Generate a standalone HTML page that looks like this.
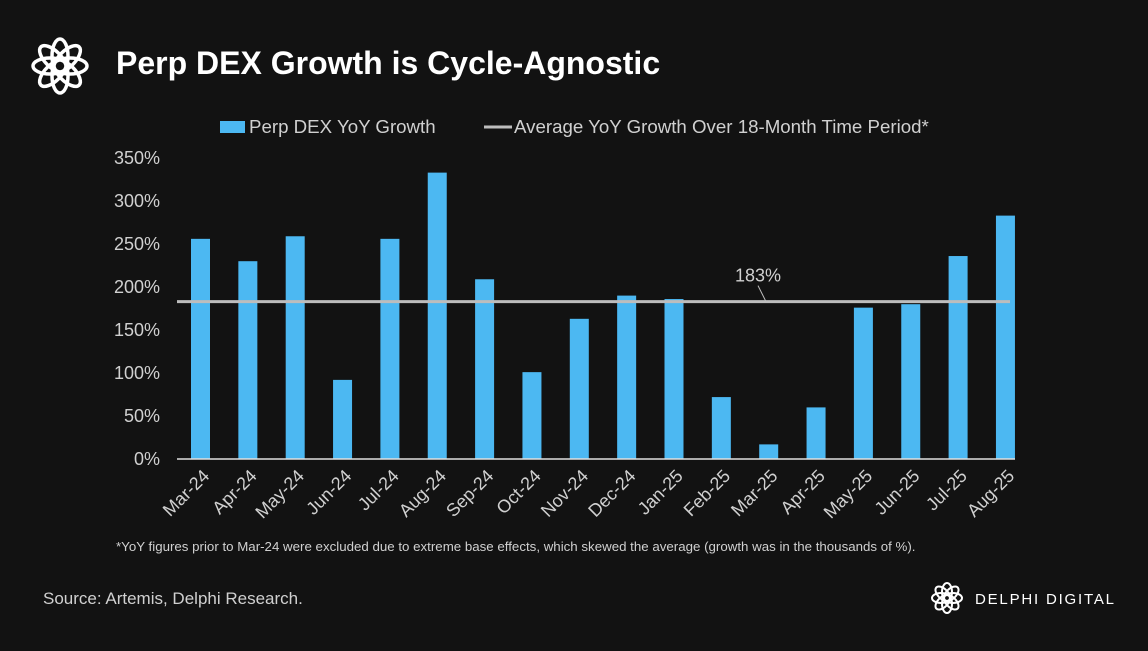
<!DOCTYPE html>
<html><head><meta charset="utf-8"><style>
body{margin:0;width:1148px;height:646px;background:#121212;overflow:hidden;font-family:"Liberation Sans",sans-serif;color:#fff}
</style></head><body>
<svg width="1148" height="646">
<g fill="none" stroke="#fff" stroke-width="3.5">
  <g transform="translate(60,66)">
    <ellipse rx="8" ry="17" transform="rotate(0) translate(0,-10)"/>
    <ellipse rx="8" ry="17" transform="rotate(45) translate(0,-10)"/>
    <ellipse rx="8" ry="17" transform="rotate(90) translate(0,-10)"/>
    <ellipse rx="8" ry="17" transform="rotate(135) translate(0,-10)"/>
    <ellipse rx="8" ry="17" transform="rotate(180) translate(0,-10)"/>
    <ellipse rx="8" ry="17" transform="rotate(225) translate(0,-10)"/>
    <ellipse rx="8" ry="17" transform="rotate(270) translate(0,-10)"/>
    <ellipse rx="8" ry="17" transform="rotate(315) translate(0,-10)"/>
  </g>
</g>
<text x="116" y="74" font-size="32" font-weight="bold" fill="#fff">Perp DEX Growth is Cycle-Agnostic</text>
<rect x="220" y="121" width="25" height="12" fill="#4cb8f2"/>
<text x="249" y="133" font-size="18.7" fill="#d0d0d0">Perp DEX YoY Growth</text>
<line x1="484" y1="127" x2="512" y2="127" stroke="#bdbdbd" stroke-width="3"/>
<text x="514" y="133" font-size="18.7" fill="#d0d0d0">Average YoY Growth Over 18-Month Time Period*</text>
<g id="yaxis"></g><g id="bars"></g><g id="xaxis"></g>
<text x="116" y="551" font-size="13.3" fill="#d0d0d0">*YoY figures prior to Mar-24 were excluded due to extreme base effects, which skewed the average (growth was in the thousands of %).</text>
<text x="43" y="604" font-size="17" fill="#d0d0d0">Source: Artemis, Delphi Research.</text>
<g fill="none" stroke="#fff" stroke-width="2">
  <g transform="translate(947,598)">
    <ellipse rx="5" ry="9" transform="rotate(0) translate(0,-6)"/>
    <ellipse rx="5" ry="9" transform="rotate(45) translate(0,-6)"/>
    <ellipse rx="5" ry="9" transform="rotate(90) translate(0,-6)"/>
    <ellipse rx="5" ry="9" transform="rotate(135) translate(0,-6)"/>
    <ellipse rx="5" ry="9" transform="rotate(180) translate(0,-6)"/>
    <ellipse rx="5" ry="9" transform="rotate(225) translate(0,-6)"/>
    <ellipse rx="5" ry="9" transform="rotate(270) translate(0,-6)"/>
    <ellipse rx="5" ry="9" transform="rotate(315) translate(0,-6)"/>
  </g>
</g>
<text x="975" y="604" font-size="15" letter-spacing="1.8" fill="#fff">DELPHI DIGITAL</text>
</svg>
<script>
const categories=["Mar-24","Apr-24","May-24","Jun-24","Jul-24","Aug-24","Sep-24","Oct-24","Nov-24","Dec-24","Jan-25","Feb-25","Mar-25","Apr-25","May-25","Jun-25","Jul-25","Aug-25"];
const growth=[256,230,259,92,256,333,209,101,163,190,186,72,17,60,176,180,236,283];
const average=183;
const yTicks=[0,50,100,150,200,250,300,350];
const yTickLabels=["0%","50%","100%","150%","200%","250%","300%","350%"];
const NS="http://www.w3.org/2000/svg";
const y0=459,pxPer=0.86,x0=200.5,step=47.35,bw=19;
const ys=v=>y0-v*pxPer, xs=i=>x0+i*step;
function mk(t,a,p){const e=document.createElementNS(NS,t);for(const k in a)e.setAttribute(k,a[k]);p.appendChild(e);return e;}
const ya=document.getElementById('yaxis'),bg=document.getElementById('bars'),xa=document.getElementById('xaxis');
yTicks.forEach((v,i)=>{const t=mk('text',{x:160,y:ys(v)+6,'font-size':18,fill:'#d0d0d0','text-anchor':'end'},ya);t.textContent=yTickLabels[i];

});
growth.forEach((v,i)=>{const r=mk('rect',{x:xs(i)-bw/2,y:ys(v),width:bw,height:v*pxPer,fill:'#4cb8f2'},bg);


const t=mk('text',{x:0,y:0,'font-size':18,fill:'#d0d0d0','text-anchor':'end',transform:`translate(${xs(i)+10},${y0+18}) rotate(-45)`},xa);t.textContent=categories[i];

});
const ax=mk('line',{x1:177,y1:y0,x2:1015,y2:y0,stroke:'#e0e0e0','stroke-width':1.5},xa);


const al=mk('line',{x1:177,y1:ys(average),x2:1010,y2:ys(average),stroke:'#bdbdbd','stroke-width':3},bg);


const ld=mk('line',{x1:758,y1:ys(average)-16,x2:766,y2:ys(average),stroke:'#bdbdbd','stroke-width':1},bg);


const lt=mk('text',{x:758,y:ys(average)-20,'font-size':18,fill:'#d0d0d0','text-anchor':'middle'},bg);lt.textContent=average+'%';


</script>
</body></html>
